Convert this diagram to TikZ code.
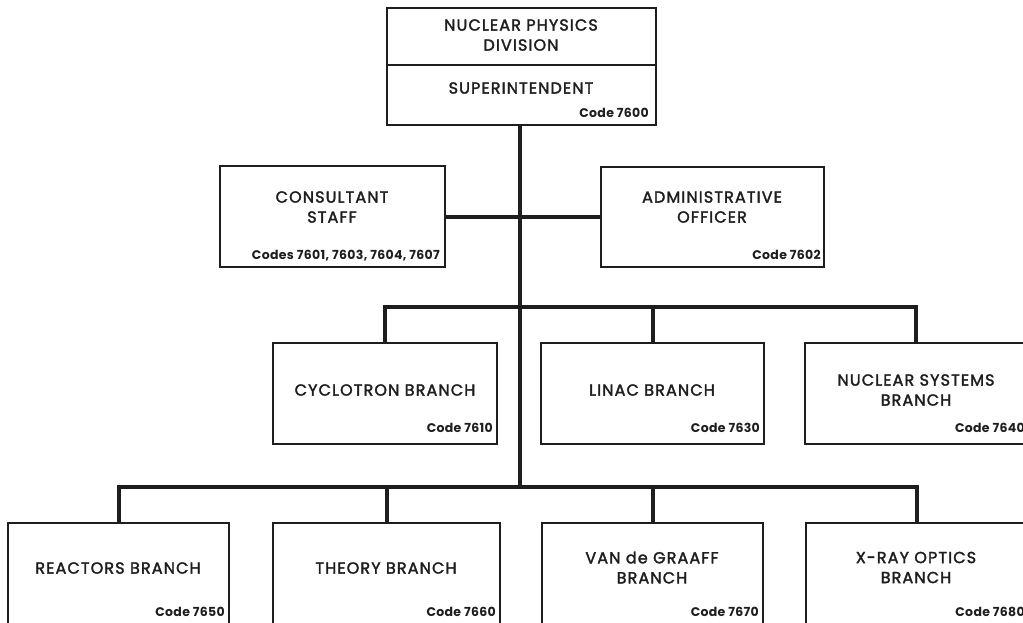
\documentclass[tikz,border=0pt]{standalone}
\usepackage{fontspec}
\setmainfont{Poppins}
\newfontfamily\lblfont{Poppins}[FakeBold=2,LetterSpace=7]
\newfontfamily\codefont{Poppins}[LetterSpace=2.5]
\usetikzlibrary{calc}
\definecolor{ink}{HTML}{1E1E1E}
\tikzset{
  orgbox/.style={draw=ink, line width=1.5pt, rectangle, inner sep=0pt},
  conn/.style={draw=ink, line width=4pt, line cap=butt, line join=miter},
  lbl/.style={text=ink, inner sep=0pt, align=center, font=\lblfont\fontsize{16}{20}\selectfont},
  codetxt/.style={text=ink, inner sep=0pt, anchor=east, font=\codefont\fontsize{12.5}{14}\selectfont\bfseries},
}
\begin{document}
\begin{tikzpicture}[x=1pt,y=-1pt]
\useasboundingbox (0,0) rectangle (1023,622);
\clip (0,0) rectangle (1023,622);
\fill[white] (0,0) rectangle (1023,622);
% boxes
\node[orgbox, minimum width=269pt, minimum height=117pt] (top) at (521.5,66.5) {};
\node[orgbox, minimum width=225pt, minimum height=101pt] (cons) at (332.5,216.5) {};
\node[orgbox, minimum width=223pt, minimum height=100pt] (admin) at (712.5,217) {};
\node[orgbox, minimum width=224pt, minimum height=101pt] (cyc) at (385,393.5) {};
\node[orgbox, minimum width=223pt, minimum height=101pt] (lin) at (652.5,393.5) {};
\node[orgbox, minimum width=222pt, minimum height=101pt] (nuc) at (916,393.5) {};
\node[orgbox, minimum width=221pt, minimum height=101pt] (rea) at (118.5,573.5) {};
\node[orgbox, minimum width=227pt, minimum height=101pt] (the) at (386.5,573.5) {};
\node[orgbox, minimum width=221pt, minimum height=101pt] (vdg) at (652.5,573.5) {};
\node[orgbox, minimum width=221pt, minimum height=101pt] (xra) at (916.5,573.5) {};
\draw[draw=ink, line width=1.5pt] ($(top.north west)!0.487!(top.south west)$) -- ($(top.north east)!0.487!(top.south east)$);
% connectors
\coordinate (b2) at (520,307);
\coordinate (b3) at (520,487);
\draw[conn] (top.south -| b3) -- (b3);
\draw[conn] (cons.east) -- (cons.east -| admin.west);
\draw[conn] (cyc.north) -- (cyc.north |- b2) -- (nuc.north |- b2) -- (nuc.north);
\draw[conn] (lin.north) -- (lin.north |- b2);
\draw[conn] (rea.north) -- (rea.north |- b3) -- (xra.north |- b3) -- (xra.north);
\draw[conn] (the.north) -- (the.north |- b3);
\draw[conn] (vdg.north) -- (vdg.north |- b3);
% texts
\node[lbl] (t1) at (521,35) {NUCLEAR PHYSICS\\DIVISION};
\node[lbl] (t2) at (521,88) {SUPERINTENDENT};
\node[codetxt] (c1) at (649,113) {Code 7600};
\node[lbl] (t3) at (332,207) {CONSULTANT\\STAFF};
\node[codetxt] (c2) at (440,256) {Codes 7601, 7603, 7604, 7607};
\node[lbl] (t4) at (712,207) {ADMINISTRATIVE\\OFFICER};
\node[codetxt] (c3) at (821,255) {Code 7602};
\node[lbl] (t5) at (385,390) {CYCLOTRON BRANCH};
\node[codetxt] (c4) at (493,428) {Code 7610};
\node[lbl] (t6) at (652,390) {LINAC BRANCH};
\node[codetxt] (c5) at (760,428) {Code 7630};
\node[lbl] (t7) at (916,390) {NUCLEAR SYSTEMS\\BRANCH};
\node[codetxt] (c6) at (1025,428) {Code 7640};
\node[lbl] (t8) at (118,568) {REACTORS BRANCH};
\node[codetxt] (c7) at (225,612) {Code 7650};
\node[lbl] (t9) at (386,568) {THEORY BRANCH};
\node[codetxt] (c8) at (496,612) {Code 7660};
\node[lbl] (t10) at (652,567.5) {VAN de GRAAFF\\BRANCH};
\node[codetxt] (c9) at (759,612) {Code 7670};
\node[lbl] (t11) at (916,567.5) {X-RAY OPTICS\\BRANCH};
\node[codetxt] (c10) at (1025,612) {Code 7680};
\end{tikzpicture}
\end{document}
